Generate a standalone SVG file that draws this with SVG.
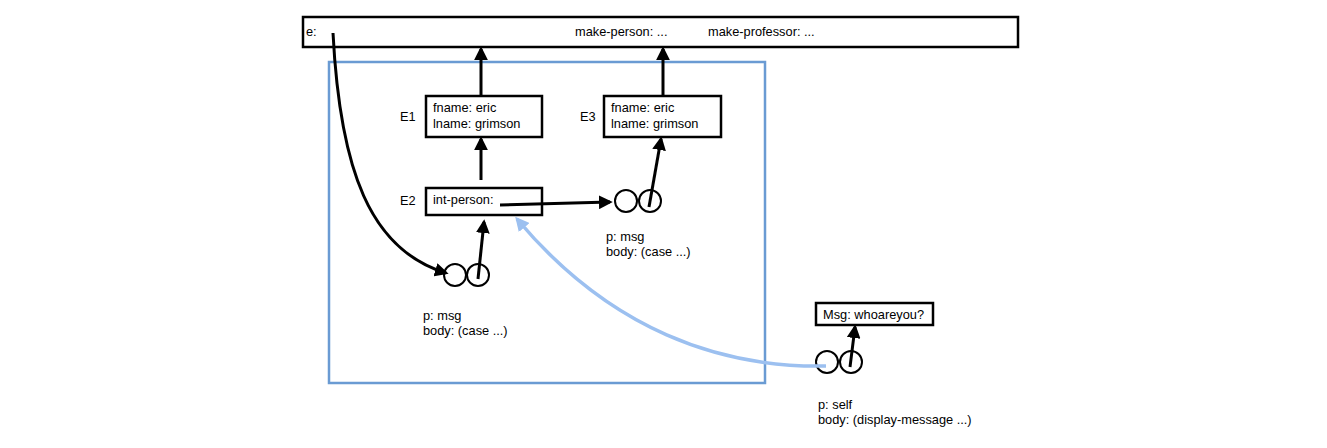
<svg xmlns="http://www.w3.org/2000/svg" width="1327" height="448" viewBox="0 0 1327 448">
<defs>
<style>
.box{fill:#fff;stroke:#000;stroke-width:2.5}
.t{font-family:"Liberation Sans",Arial,sans-serif;font-size:12.8px;fill:#000}
.c{fill:#fff;stroke:#000;stroke-width:2}
.ln{fill:none;stroke:#000;stroke-width:3}
.bl{fill:none;stroke:#9cc0f0;stroke-width:3.5}
</style>
<marker id="ah" viewBox="0 0 10 10" refX="8" refY="5" markerWidth="4.6" markerHeight="4.6" orient="auto" markerUnits="strokeWidth">
<path d="M0,0 L10,5 L0,10 Z" fill="#000"/>
</marker>
<marker id="ahb" viewBox="0 0 10 10" refX="8" refY="5" markerWidth="4" markerHeight="4" orient="auto" markerUnits="strokeWidth">
<path d="M0,0 L10,5 L0,10 Z" fill="#9cc0f0"/>
</marker>
</defs>
<rect width="1327" height="448" fill="#fff"/>
<g id="global">
<rect class="box" x="303" y="17" width="715" height="30"/>
<text class="t" x="306" y="36">e:</text>
<text class="t" x="575" y="36">make-person: ...</text>
<text class="t" x="708" y="36">make-professor: ...</text>
</g>
<g id="frame">
<rect x="329" y="62" width="436" height="321" fill="none" stroke="#6a9bd3" stroke-width="2.5"/>
</g>
<g id="E1">
<rect class="box" x="426" y="96" width="116" height="41"/>
<text class="t" x="400" y="121">E1</text>
<text class="t" x="433" y="112">fname: eric</text>
<text class="t" x="433" y="128">lname: grimson</text>
</g>
<g id="E3">
<rect class="box" x="604" y="96" width="117" height="41"/>
<text class="t" x="580" y="121">E3</text>
<text class="t" x="611" y="112">fname: eric</text>
<text class="t" x="611" y="128">lname: grimson</text>
</g>
<g id="E2">
<rect class="box" x="426" y="188" width="116" height="27"/>
<text class="t" x="400" y="205">E2</text>
<text class="t" x="433" y="204">int-person:</text>
</g>
<g id="proc1">
<circle class="c" cx="455" cy="275" r="11"/>
<circle class="c" cx="478" cy="275" r="11"/>
<text class="t" x="423" y="320">p: msg</text>
<text class="t" x="423" y="335">body: (case ...)</text>
</g>
<g id="proc2">
<circle class="c" cx="626" cy="201" r="11"/>
<circle class="c" cx="650" cy="201" r="11"/>
<text class="t" x="606" y="241">p: msg</text>
<text class="t" x="606" y="256">body: (case ...)</text>
</g>
<g id="msg">
<rect class="box" x="816" y="303" width="117" height="22"/>
<text class="t" x="823" y="319">Msg: whoareyou?</text>
</g>
<g id="proc3">
<circle class="c" cx="827" cy="362" r="11"/>
<circle class="c" cx="851" cy="362" r="11"/>
<text class="t" x="818" y="409">p: self</text>
<text class="t" x="818" y="424">body: (display-message ...)</text>
</g>
<g id="connectors">
<line class="ln" x1="481" y1="96" x2="481" y2="49" marker-end="url(#ah)"/>
<line class="ln" x1="663" y1="96" x2="663" y2="49" marker-end="url(#ah)"/>
<line class="ln" x1="481" y1="180" x2="481" y2="139" marker-end="url(#ah)"/>
<line class="ln" x1="500" y1="205" x2="610" y2="202" marker-end="url(#ah)"/>
<line class="ln" x1="649" y1="207" x2="661" y2="139" marker-end="url(#ah)"/>
<line class="ln" x1="478" y1="279" x2="484" y2="222" marker-end="url(#ah)"/>
<line class="ln" x1="850" y1="367" x2="855" y2="327" marker-end="url(#ah)"/>
<path class="ln" d="M333,33 C340,170 370,250 446,273" marker-end="url(#ah)"/>
<path class="bl" d="M826,366 C720,368 610,330 517,219" marker-end="url(#ahb)"/>
</g>
</svg>
